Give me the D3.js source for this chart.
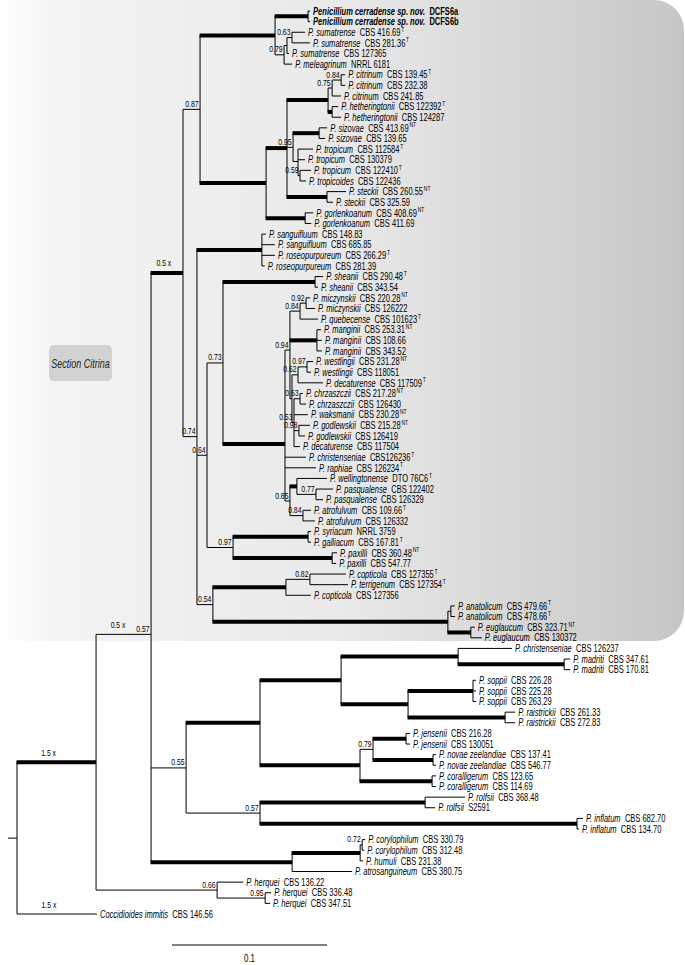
<!DOCTYPE html>
<html><head><meta charset="utf-8">
<script src="https://cdn.jsdelivr.net/npm/d3@7"></script>
<style>body{margin:0;background:#fff} svg{display:block}</style>
</head><body>
<svg id="chart" width="685" height="965"></svg>
<script>
// ---------------- DATA ----------------
const species = [
 "Penicillium cerradense sp. nov.","Penicillium cerradense sp. nov.",
 "P. sumatrense","P. sumatrense","P. sumatrense","P. meleagrinum",
 "P. citrinum","P. citrinum","P. citrinum","P. hetheringtonii","P. hetheringtonii",
 "P. sizovae","P. sizovae","P. tropicum","P. tropicum","P. tropicum","P. tropicoides",
 "P. steckii","P. steckii","P. gorlenkoanum","P. gorlenkoanum",
 "P. sanguifluum","P. sanguifluum","P. roseopurpureum","P. roseopurpureum",
 "P. sheanii","P. sheanii","P. miczynskii","P. miczynskii","P. quebecense",
 "P. manginii","P. manginii","P. manginii","P. westlingii","P. westlingii","P. decaturense",
 "P. chrzaszczii","P. chrzaszczii","P. waksmanii","P. godlewskii","P. godlewskii","P. decaturense",
 "P. christenseniae","P. raphiae","P. wellingtonense","P. pasqualense","P. pasqualense",
 "P. atrofulvum","P. atrofulvum","P. syriacum","P. galliacum","P. paxilli","P. paxilli",
 "P. copticola","P. terrigenum","P. copticola","P. anatolicum","P. anatolicum",
 "P. euglaucum","P. euglaucum","P. christenseniae","P. madriti","P. madriti",
 "P. soppii","P. soppii","P. soppii","P. raistrickii","P. raistrickii",
 "P. jensenii","P. jensenii","P. novae zeelandiae","P. novae zeelandiae",
 "P. coralligerum","P. coralligerum","P. rolfsii","P. rolfsii","P. inflatum","P. inflatum",
 "P. corylophilum","P. corylophilum","P. humuli","P. atrosanguineum",
 "P. herquei","P. herquei","P. herquei","Coccidioides immitis"
];
const strains = [
 "DCFS6a","DCFS6b","CBS 416.69","CBS 281.36","CBS 127365","NRRL 6181",
 "CBS 139.45","CBS 232.38","CBS 241.85","CBS 122392","CBS 124287",
 "CBS 413.69","CBS 139.65","CBS 112584","CBS 130379","CBS 122410","CBS 122436",
 "CBS 260.55","CBS 325.59","CBS 408.69","CBS 411.69",
 "CBS 148.83","CBS 685.85","CBS 266.29","CBS 281.39",
 "CBS 290.48","CBS 343.54","CBS 220.28","CBS 126222","CBS 101623",
 "CBS 253.31","CBS 108.66","CBS 343.52","CBS 231.28","CBS 118051","CBS 117509",
 "CBS 217.28","CBS 126430","CBS 230.28","CBS 215.28","CBS 126419","CBS 117504",
 "CBS126236","CBS 126234","DTO 76C6","CBS 122402","CBS 126329",
 "CBS 109.66","CBS 126332","NRRL 3759","CBS 167.81","CBS 360.48","CBS 547.77",
 "CBS 127355","CBS 127354","CBS 127356","CBS 479.66","CBS 478.66",
 "CBS 323.71","CBS 130372","CBS 126237","CBS 347.61","CBS 170.81",
 "CBS 226.28","CBS 225.28","CBS 263.29","CBS 261.33","CBS 272.83",
 "CBS 216.28","CBS 130051","CBS 137.41","CBS 546.77",
 "CBS 123.65","CBS 114.69","CBS 368.48","S2591","CBS 682.70","CBS 134.70",
 "CBS 330.79","CBS 312.48","CBS 231.38","CBS 380.75",
 "CBS 136.22","CBS 336.48","CBS 347.51","CBS 146.56"
];
const typeMarks = {2:"T",3:"T",6:"T",9:"T",11:"NT",13:"T",15:"T",17:"NT",19:"NT",23:"T",25:"T",
 27:"NT",29:"T",30:"NT",33:"NT",35:"T",36:"NT",38:"NT",39:"NT",42:"T",43:"T",44:"T",47:"T",
 50:"T",51:"NT",53:"T",54:"T",56:"T",57:"T",58:"NT"};
const boldLeaves = [0,1];
// terminal branch lengths (substitutions/site)
const leafLen = [
 0.0013,0.0013,0.0084,0.0116,0.0013,0.0052,0.0026,0.0026,0.0058,0.0039,0.0058,
 0.0052,0.0039,0.0097,0.0045,0.0071,0.0039,0.0123,0.0039,0.0052,0.0039,
 0.0026,0.0084,0.0084,0.0019,0.0052,0.0019,0.0026,0.0058,0.0116,
 0.0026,0.0032,0.0032,0.0039,0.0026,0.0161,0.0019,0.0039,0.0090,0.0071,0.0039,0.0039,
 0.0135,0.0200,0.0194,0.0110,0.0045,0.0052,0.0077,0.0019,0.0019,0.0032,0.0026,
 0.0232,0.0245,0.0161,0.0026,0.0026,0.0026,0.0071,0.0348,0.0039,0.0039,
 0.0019,0.0019,0.0019,0.0065,0.0065,0.0026,0.0026,0.0019,0.0019,
 0.0026,0.0026,0.0258,0.0065,0.0039,0.0013,0.0019,0.0013,0.0019,0.0387,
 0.0168,0.0039,0.0032,0.0516
];
// internal clades: [name, children (clade names or leaf indices), support, branch length, thick]
const clades = [
 ["Ce",[0,1],"",0.0213,1],
 ["F",[2,3],"0.63",0.0032,0],
 ["I",["F",4],"",0.0019,0],
 ["H",["I",5],"0.79",0.0058,0],
 ["D1",["Ce","H"],"",0.0484,1],
 ["J",[6,7],"0.84",0.0058,0],
 ["K",["J",8],"0.75",0.0026,0],
 ["U",[9,10],"",0.0026,1],
 ["Lc",["K","U"],"",0.0265,1],
 ["O",[11,12],"",0.0168,1],
 ["R2",[15,16],"0.59",0.0013,0],
 ["P",[13,14,"R2"],"",0.0032,0],
 ["N",["O","P"],"0.95",0.0039,0],
 ["S",[17,18],"",0.0258,1],
 ["M",["Lc","N","S"],"",0.0135,1],
 ["G2",[19,20],"",0.0252,1],
 ["T",["M","G2"],"",0.0426,1],
 ["D",["D1","T"],"0.87",0.0110,0],
 ["W",[21,22,23,24],"",0.0419,1],
 ["Sh",[25,26],"",0.0594,1],
 ["EE",[27,28],"0.92",0.0039,0],
 ["BB",["EE",29],"0.84",0.0065,0],
 ["Mg",[30,31,32],"",0.0174,1],
 ["WL",[33,34],"0.97",0.0058,0],
 ["GG",["WL",35],"0.62",0.0039,0],
 ["HH",[36,37],"0.63",0.0039,0],
 ["LL",[39,40],"0.98",0.0032,0],
 ["JJ",["HH",38,"LL",41],"0.53",0.0013,0],
 ["DD",["GG","JJ"],"",0.0013,0],
 ["CC",["BB","Mg","DD"],"0.94",0.0032,0],
 ["PP",[45,46],"0.77",0.0123,0],
 ["MM",[44,"PP"],"",0.0045,1],
 ["NN",[47,48],"0.84",0.0084,0],
 ["FF",["MM","NN"],"0.85",0.0032,0],
 ["AA",["CC",42,43,"FF"],"",0.0400,1],
 ["Z",["Sh","AA"],"0.73",0.0103,0],
 ["RR",[49,50],"",0.0484,1],
 ["SS",[51,52],"",0.0639,1],
 ["QQ",["RR","SS"],"0.97",0.0168,0],
 ["X",["Z","QQ"],"0.64",0.0065,0],
 ["VV",[53,54],"0.82",0.0155,0],
 ["TT",["VV",55],"",0.0471,1],
 ["WW",[56,57],"",0.0019,0],
 ["XX",[58,59],"",0.0148,1],
 ["UU",["WW","XX"],"",0.1516,1],
 ["Y",["TT","UU"],"0.54",0.0103,0],
 ["V",["W","X","Y"],"0.74",0.0090,0],
 ["C",["D","V"],"",0.0206,1],
 ["AG",[61,62],"",0.0684,1],
 ["AE",[60,"AG"],"",0.0755,1],
 ["Sp",[63,64,65],"",0.0419,1],
 ["Ra",[66,67],"",0.0626,1],
 ["AF",["Sp","Ra"],"",0.0432,1],
 ["AC",["AE","AF"],"",0.0523,1],
 ["AH",[68,69],"",0.0213,1],
 ["AI",[70,71],"",0.0387,1],
 ["AK",["AH","AI"],"0.79",0.0084,0],
 ["AJ",[72,73],"",0.0465,1],
 ["AD",["AK","AJ"],"",0.0645,1],
 ["AB",["AC","AD"],"",0.0477,1],
 ["AM",[74,75],"",0.1065,1],
 ["AN",[76,77],"",0.2045,1],
 ["AL",["AM","AN"],"0.57",0.0477,0],
 ["ZZ",["AB","AL"],"0.55",0.0226,0],
 ["AQ",[78,79],"0.72",0.0013,0],
 ["AP",["AQ",80],"",0.0439,1],
 ["AO",["AP",81],"",0.0910,1],
 ["B",["C","ZZ","AO"],"0.57",0.0355,0],
 ["AS",[83,84],"0.95",0.0310,0],
 ["AR",[82,"AS"],"0.66",0.0781,0],
 ["A",["B","AR"],"",0.0510,1],
 ["Root",["A",85],"",0,0]
];
// shortened-branch notes
const branchNotes = [["A","1.5 x"],["B","0.5 x"],["C","0.5 x"],[85,"1.5 x"]];
const scaleBarValue = 0.1;
const sectionLabel = "Section Citrina";

// ---------------- BUILD ----------------
const svg = d3.select("#chart");
const FONT = "'Liberation Sans', Arial, sans-serif";
const NARROW = 0.71;

const cladeMap = new Map(clades.map(c => [c[0], c]));
function build(ref){
  if (typeof ref === "number") return {id: ref, leaf: ref, len: leafLen[ref], thick: 0, sup: ""};
  const c = cladeMap.get(ref);
  return {id: ref, sup: c[2], len: c[3], thick: c[4], children: c[1].map(build)};
}
const root = d3.hierarchy(build("Root"));
root.eachBefore(d => { d.dist = (d.parent ? d.parent.dist : 0) + d.data.len; });

const xs = d3.scaleLinear().domain([0, 0.1]).range([17, 172]);
const ys = d3.scaleLinear().domain([0, species.length - 1]).range([11, 914]);
root.eachAfter(d => {
  d.px = xs(d.dist);
  d.py = d.children ? d3.mean(d.children, c => c.py) : ys(d.data.leaf);
});

// background shading for Section Citrina
const defs = svg.append("defs");
const grad = defs.append("linearGradient").attr("id","bg").attr("gradientUnits","userSpaceOnUse")
  .attr("x1",0).attr("x2",684).attr("y1",0).attr("y2",0);
[[0,"#ffffff"],[0.08,"#f4f4f4"],[0.5,"#e9e9e9"],[1,"#c6c6c6"]].forEach(s =>
  grad.append("stop").attr("offset", s[0]).attr("stop-color", s[1]));
svg.append("rect").attr("x",-40).attr("y",0).attr("width",724).attr("height",641)
  .attr("rx",30).attr("fill","url(#bg)");

const gSec = svg.append("g");
gSec.append("rect").attr("x",49).attr("y",345).attr("width",63).attr("height",36).attr("rx",5)
  .attr("fill","#d2d2d2");
gSec.append("text").attr("transform",`translate(80.5,367.5) scale(0.73,1)`)
  .attr("text-anchor","middle").attr("font-family",FONT).attr("font-size",12.3)
  .attr("font-style","italic").attr("fill","#222").text(sectionLabel);

// ---------------- TREE ----------------
const gT = svg.append("g").attr("stroke","#000").attr("fill","none");
// root stub
gT.append("line").attr("x1", root.px - 9).attr("x2", root.px).attr("y1", root.py).attr("y2", root.py).attr("stroke-width",1);
// verticals
root.descendants().filter(d => d.children).forEach(d => {
  const e = d3.extent(d.children, c => c.py);
  gT.append("line").attr("x1", d.px).attr("x2", d.px).attr("y1", e[0]).attr("y2", e[1]).attr("stroke-width",1);
});
// horizontals
root.descendants().filter(d => d.parent).forEach(d => {
  gT.append("line").attr("x1", d.parent.px - (d.data.thick ? 0.5 : 0)).attr("x2", d.px)
    .attr("y1", d.py).attr("y2", d.py).attr("stroke-width", d.data.thick ? 4 : 1);
});

// leaf labels
const gL = svg.append("g").attr("font-family", FONT).attr("fill","#000");
root.leaves().forEach(d => {
  const i = d.data.leaf;
  const bold = boldLeaves.includes(i);
  const x0 = d.px + 3, y0 = d.py + 3.7;
  const t = gL.append("text").attr("transform", `translate(${x0},${y0}) scale(${NARROW},1)`)
    .attr("font-size", 10.6).attr("font-weight", bold ? "bold" : "normal");
  t.append("tspan").attr("font-style","italic").text(species[i]);
  t.append("tspan").attr("dx", 6).text(strains[i]);
  if (typeMarks[i]) {
    const bb = t.node().getBBox();
    const w = (bb.x + bb.width) * NARROW;
    gL.append("text").attr("transform", `translate(${x0 + w + 0.8},${y0 - 4.2}) scale(${NARROW},1)`)
      .attr("font-size", 7).text(typeMarks[i]);
  }
});

// support values
const gS = svg.append("g").attr("font-family", FONT).attr("fill","#000").attr("font-size", 9.8);
root.descendants().filter(d => d.data.sup).forEach(d => {
  gS.append("text").attr("transform", `translate(${d.px - 1.5},${d.py - 2.5}) scale(0.7,1)`)
    .attr("text-anchor","end").text(d.data.sup);
});

// branch notes
branchNotes.forEach(([id, txt]) => {
  const d = root.descendants().find(n => n.data.id === id);
  const x = d.parent.px + 0.4 * (d.px - d.parent.px);
  gS.append("text").attr("transform", `translate(${x},${d.py - 6.5}) scale(0.7,1)`)
    .attr("text-anchor","middle").text(txt);
});

// scale bar
const sbX0 = 172, sbY = 945;
const sbLen = xs(scaleBarValue) - xs(0);
svg.append("line").attr("x1", sbX0).attr("x2", sbX0 + sbLen).attr("y1", sbY).attr("y2", sbY)
  .attr("stroke","#000").attr("stroke-width",1);
svg.append("text").attr("transform", `translate(${sbX0 + sbLen/2},${sbY + 17}) scale(0.72,1)`)
  .attr("text-anchor","middle").attr("font-family",FONT).attr("font-size",11).text(String(scaleBarValue));
</script>
</body></html>
